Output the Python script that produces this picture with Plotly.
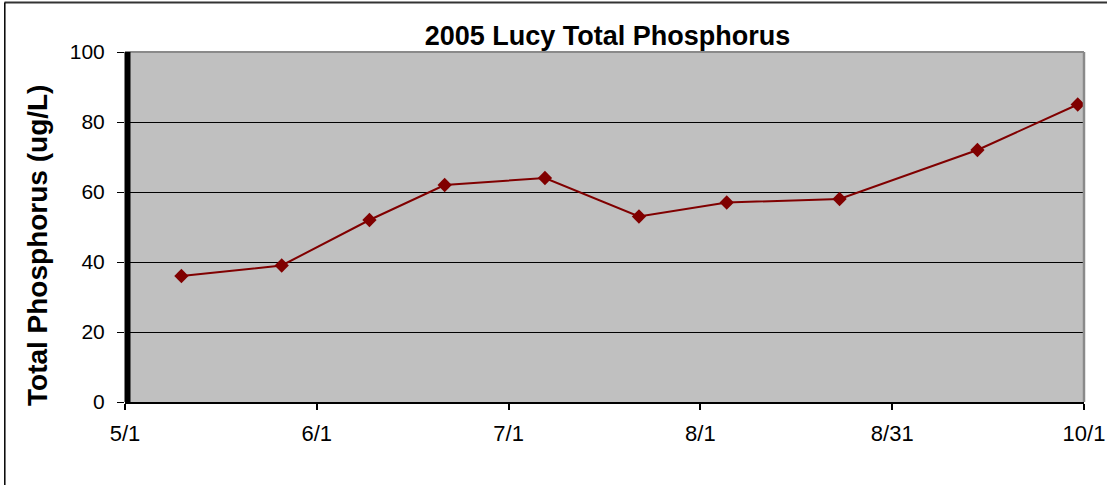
import plotly.graph_objects as go

dates = ["2005-05-10", "2005-05-26", "2005-06-09", "2005-06-21", "2005-07-07",
         "2005-07-22", "2005-08-05", "2005-08-23", "2005-09-14", "2005-09-30"]
tp_values = [36, 39, 52, 62, 64, 53, 57, 58, 72, 85]

x_tickvals = ["2005-05-01 00:00", "2005-05-31 14:24", "2005-07-01 04:48",
              "2005-07-31 19:12", "2005-08-31 09:36", "2005-10-01 00:00"]
x_ticktext = ["5/1", "6/1", "7/1", "8/1", "8/31", "10/1"]
y_tickvals = [0, 20, 40, 60, 80, 100]

title_text = "2005 Lucy Total Phosphorus"
y_title = "Total Phosphorus (ug/L)"

W, H = 1107, 485
L, R, T, B = 125, 1084, 52, 402
PW, PH = R - L, B - T

def px(x):
    return (x - L) / PW

def py(y):
    return (B - y) / PH

fig = go.Figure()
fig.add_trace(go.Scatter(
    x=dates, y=tp_values, mode="lines+markers",
    line=dict(color="#800000", width=2),
    marker=dict(symbol="diamond", size=11, color="#800000"),
    showlegend=False, cliponaxis=False,
))

font_family = "Liberation Sans, Arial, sans-serif"

fig.update_layout(
    width=W, height=H,
    margin=dict(l=L, r=W - R, t=T, b=H - B, pad=0, autoexpand=False),
    paper_bgcolor="white",
    plot_bgcolor="#C0C0C0",
    font=dict(family=font_family, size=22, color="black"),
    title=dict(text="<b>" + title_text + "</b>", x=607.5 / W, xanchor="center",
               y=1 - 36 / H, yanchor="middle", font=dict(size=27)),
    xaxis=dict(
        type="date",
        range=[x_tickvals[0], x_tickvals[-1]],
        tickmode="array", tickvals=x_tickvals, ticktext=x_ticktext,
        showgrid=False, zeroline=False, automargin=False,
        showline=True, linecolor="black", linewidth=1.5,
        ticks="outside", ticklen=6, tickcolor="black", tickwidth=1.5,
        ticklabelstandoff=5,
        tickfont=dict(size=22),
    ),
    yaxis=dict(
        range=[0, 100],
        tickmode="array", tickvals=y_tickvals,
        showgrid=True, gridcolor="black", gridwidth=1,
        zeroline=False, automargin=False,
        showline=False,
        ticks="outside", ticklen=7, tickcolor="black", tickwidth=1,
        ticklabelstandoff=8,
        tickfont=dict(size=21),
    ),
    annotations=[dict(
        text="<b>" + y_title + "</b>", xref="paper", yref="paper",
        x=px(37), y=py(246),
        xanchor="center", yanchor="middle", textangle=-90,
        showarrow=False, font=dict(size=28),
    )],
    shapes=[
        # plot area border (top and right, gray)
        dict(type="line", xref="paper", yref="paper", x0=0, x1=1, y0=py(52), y1=py(52),
             line=dict(color="#8a8a8a", width=2)),
        dict(type="line", xref="paper", yref="paper", x0=px(1084), x1=px(1084), y0=0, y1=1,
             line=dict(color="#8a8a8a", width=2.5)),
        # thick black value axis line
        dict(type="line", xref="paper", yref="paper", x0=px(127.5), x1=px(127.5),
             y0=py(402), y1=py(52), line=dict(color="black", width=6)),
        # outer chart frame (top and left)
        dict(type="line", xref="paper", yref="paper",
             x0=px(4.5), x1=px(W + 5), y0=py(2.5), y1=py(2.5),
             line=dict(color="#333333", width=2)),
        dict(type="line", xref="paper", yref="paper",
             x0=px(4.8), x1=px(4.8), y0=py(2.5), y1=py(H + 5),
             line=dict(color="#000000", width=1.5)),
    ],
)

fig.write_html("out.html", config={"displayModeBar": False},
               post_script="document.body.style.margin='0px';document.body.style.overflow='hidden';")
